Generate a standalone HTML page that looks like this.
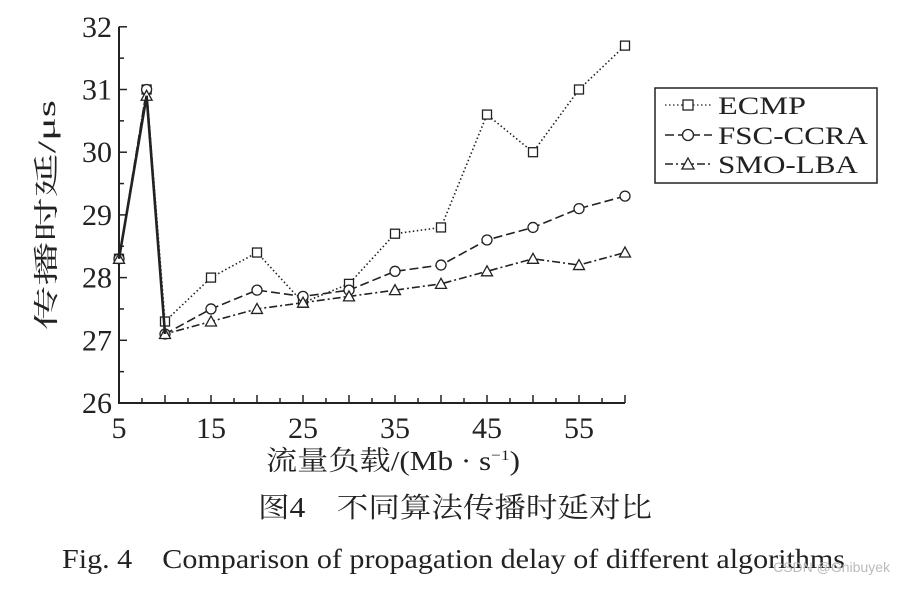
<!DOCTYPE html>
<html><head><meta charset="utf-8"><style>
body{margin:0;background:#fff;width:908px;height:586px;overflow:hidden}
text{font-family:"Liberation Serif","Noto Serif CJK SC",serif;fill:#222}
</style></head><body>
<svg width="908" height="586">
<g id="axes"></g>
<g id="series"></g>
<g>
<rect x="655" y="88" width="222" height="95" fill="none" stroke="#222" stroke-width="1.5"/>
<g><line x1="665" y1="105" x2="712" y2="105" stroke="#222" stroke-width="1.3" stroke-dasharray="1.5,2.5"/><rect x="683" y="100" width="10" height="10" fill="#fff" stroke="#222" stroke-width="1.3"/><text x="718" y="114" font-size="25" textLength="88" lengthAdjust="spacingAndGlyphs">ECMP</text></g>
<g><line x1="665" y1="135" x2="712" y2="135" stroke="#222" stroke-width="1.5" stroke-dasharray="9,4"/><circle cx="688" cy="135" r="5.5" fill="#fff" stroke="#222" stroke-width="1.3"/><text x="718" y="144" font-size="25" textLength="150" lengthAdjust="spacingAndGlyphs">FSC-CCRA</text></g>
<g><line x1="665" y1="164" x2="712" y2="164" stroke="#222" stroke-width="1.5" stroke-dasharray="8,3,2,3"/><polygon points="688,158 694,169 682,169" fill="#fff" stroke="#222" stroke-width="1.3"/><text x="718" y="173" font-size="25" textLength="140" lengthAdjust="spacingAndGlyphs">SMO-LBA</text></g>
</g>
<text x="0" y="0" font-size="25" transform="translate(55,215) rotate(-90)" text-anchor="middle" textLength="230" lengthAdjust="spacingAndGlyphs">传播时延/μs</text>
<text x="266" y="470" font-size="27" textLength="254" lengthAdjust="spacingAndGlyphs">流量负载/(Mb · s<tspan font-size="15" dy="-10">−1</tspan><tspan dy="10">)</tspan></text>
<text x="258" y="517" font-size="28" textLength="394" lengthAdjust="spacingAndGlyphs">图4　不同算法传播时延对比</text>
<text x="62" y="568" font-size="27" textLength="783" lengthAdjust="spacingAndGlyphs">Fig. 4　Comparison of propagation delay of different algorithms</text>
<text x="890" y="572" font-size="14" text-anchor="end" style="fill:#bbb;font-family:'Liberation Sans',sans-serif">CSDN @Gnibuyek</text>
</svg>
<script>
const xs=[5,8,10,15,20,25,30,35,40,45,50,55,60];
const ecmp=[28.3,31.0,27.3,28.0,28.4,27.6,27.9,28.7,28.8,30.6,30.0,31.0,31.7];
const fsc=[28.3,31.0,27.1,27.5,27.8,27.7,27.8,28.1,28.2,28.6,28.8,29.1,29.3];
const smo=[28.3,30.9,27.1,27.3,27.5,27.6,27.7,27.8,27.9,28.1,28.3,28.2,28.4];
const xTicks=[5,15,25,35,45,55];
const yTicks=[26,27,28,29,30,31,32];
const NS="http://www.w3.org/2000/svg";
const X=v=>119+(v-5)*9.2;
const Y=v=>403-(v-26)*62.7;
function mk(t,a,p){const e=document.createElementNS(NS,t);for(const k in a)e.setAttribute(k,a[k]);p.appendChild(e);return e;}
const ax=document.getElementById('axes');
let l=mk('path',{d:`M${X(5)},${Y(32)}V${Y(26)}H${X(60)}`,fill:'none',stroke:'#222','stroke-width':2},ax);


for(let v=26;v<=32;v+=0.5){const t=mk('line',{x1:X(5),x2:X(5)+(v%1?5:8),y1:Y(v),y2:Y(v),stroke:'#222','stroke-width':1.5},ax);

}
for(let v=5;v<=60;v+=2.5){const t=mk('line',{x1:X(v),x2:X(v),y1:Y(26),y2:Y(26)-(v%5?5:8),stroke:'#222','stroke-width':1.5},ax);

}
yTicks.forEach(v=>{const t=mk('text',{x:112,y:Y(v)+10,'font-size':30,'text-anchor':'end'},ax);t.textContent=v;

});
xTicks.forEach(v=>{const t=mk('text',{x:X(v),y:438,'font-size':30,'text-anchor':'middle'},ax);t.textContent=v;

});
const sg=document.getElementById('series');
function series(vals,dash,marker,name){
const g=mk('g',{},sg);


mk('polyline',{points:xs.map((x,i)=>X(x)+','+Y(vals[i])).join(' '),fill:'none',stroke:'#222','stroke-width':1.6,'stroke-dasharray':dash},g);
xs.forEach((x,i)=>{const cx=X(x),cy=Y(vals[i]);let m;
if(marker=='s')m=mk('rect',{x:cx-4.5,y:cy-4.5,width:9,height:9,fill:'#fff',stroke:'#222','stroke-width':1.3},g);
else if(marker=='c')m=mk('circle',{cx,cy,r:5,fill:'#fff',stroke:'#222','stroke-width':1.3},g);
else m=mk('polygon',{points:`${cx},${cy-5.5} ${cx+5.5},${cy+4.5} ${cx-5.5},${cy+4.5}`,fill:'#fff',stroke:'#222','stroke-width':1.3},g);

});
}
series(ecmp,'1.5,2.5','s','ecmp-series');
series(fsc,'9,4','c','fsc-ccra-series');
series(smo,'8,3,2,3','t','smo-lba-series');
const o=mk('polyline',{points:[0,1,2].map(i=>X(xs[i])+','+Y(smo[i])).join(' '),fill:'none',stroke:'#222','stroke-width':2.6},sg);


</script>
</body></html>
